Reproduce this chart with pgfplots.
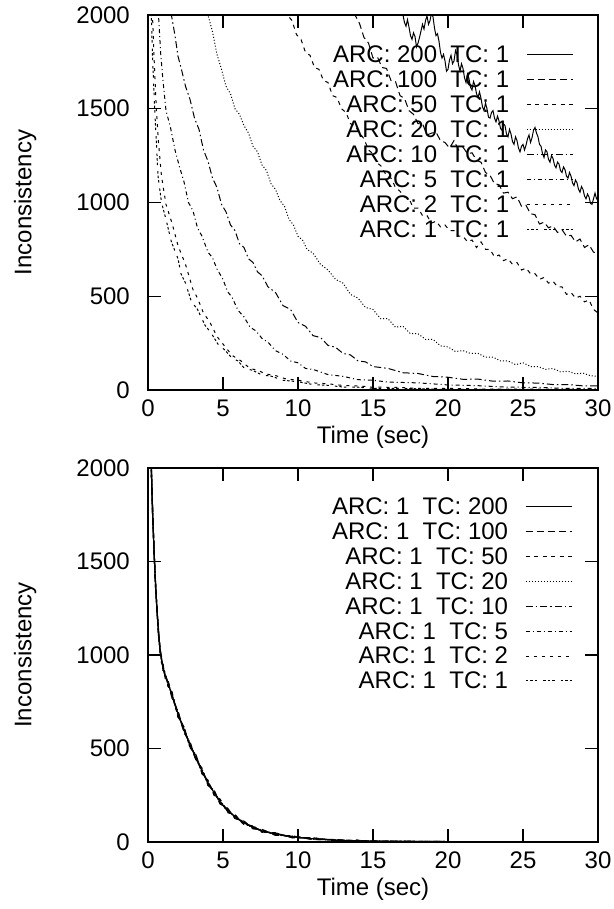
\documentclass[border=0pt]{standalone}
\usepackage{fontspec}
\setmainfont{Liberation Sans}
\usepackage{pgfplots}
\pgfplotsset{compat=1.18}
\usepackage{pgfplotstable}
\newcommand\gap{\hspace{0.556em}}

\pgfplotstableread{
t     s1   s2   s3   s4   s5   s6   s7   s8
0.18 2200 2200 2200 2200 2200 2200 2200 2200
0.22 2000 2015 1985 2008 1992 2004 2018 1982
0.30 1780 1765 1795 1772 1790 1778 1760 1798
0.40 1560 1575 1545 1568 1552 1572 1548 1562
0.50 1380 1365 1395 1372 1390 1368 1398 1382
0.60 1240 1255 1225 1248 1232 1252 1228 1244
0.70 1120 1105 1135 1112 1130 1108 1138 1122
0.80 1030 1045 1015 1038 1022 1042 1018 1034
0.90 975 960 990 968 985 962 992 978
1.00 935 950 920 942 925 948 918 938
1.15 890 875 905 882 898 878 908 892
1.33 850 865 835 858 842 862 834 852
1.60 785 770 800 778 795 772 802 788
2.00 685 700 670 692 676 698 668 688
2.40 600 585 615 592 610 588 618 602
2.80 520 535 505 528 512 532 504 522
3.20 450 435 465 442 460 438 466 452
3.60 380 395 366 388 372 392 365 382
4.00 315 302 328 308 322 305 330 318
4.40 265 278 252 272 258 276 251 266
4.80 215 204 228 210 222 206 229 218
5.30 170 181 159 176 164 179 158 171
5.80 135 126 145 130 140 127 146 137
6.40 102 111 93 107 97 110 92 103
7.00 78 71 86 74 83 72 87 79
7.60 60 67 53 64 56 66 52 61
8.50 42 36 49 39 46 37 49 43
9.60 28 33 23 30 25 32 22 29
11.0 17 13 22 15 20 14 22 18
12.5 10 13 7 11 8 12 7 10
14.0 6 4 9 5 8 4 9 6
15.0 4 6 3 5 3 6 2 4
17.0 3 2 4 2 4 2 4 3
20.0 2 1 2 1 2 1 2 2
25.0 1 1 1 1 1 1 1 1
30.0 1 0 1 0 1 0 1 0
}\bottomdata

\pgfplotsset{
  lA/.style={black, solid, line width=1pt},
  lB/.style={black, dash pattern=on 7pt off 4pt, line width=1pt},
  lC/.style={black, dash pattern=on 4pt off 4.5pt, line width=1pt},
  lD/.style={black, dash pattern=on 1pt off 2pt, line width=1pt},
  lE/.style={black, dash pattern=on 7pt off 3pt on 1.5pt off 3pt, line width=1pt},
  lF/.style={black, dash pattern=on 4pt off 3pt on 1pt off 3pt, line width=1pt},
  lG/.style={black, dash pattern=on 3pt off 5pt, line width=1pt},
  lH/.style={black, dash pattern=on 2.5pt off 2pt on 2.5pt off 2pt on 2.5pt off 6pt, line width=1pt},
  myax/.style={
    width=450pt, height=375pt, scale only axis,
    xmin=0, xmax=30, ymin=0, ymax=2000,
    xtick={0,5,...,30}, ytick={0,500,...,2000},
    tick align=inside, major tick length=13pt,
    axis line style={line width=1.4pt},
    every tick/.style={black, line width=1.2pt},
    font=\fontsize{24}{28}\selectfont,
    /pgf/number format/assume math mode=true,
    /pgf/number format/1000 sep={},
    xticklabel style={inner sep=0pt, anchor=north, yshift=-10pt},
    yticklabel style={inner sep=0pt, anchor=east, xshift=-18pt},
    xlabel={Time (sec)}, ylabel={Inconsistency},
    every axis x label/.style={at={(axis description cs:0.5,-0.096)}, anchor=north, inner sep=0pt},
    every axis y label/.style={at={(axis description cs:-0.273,0.5)}, rotate=90, anchor=center, inner sep=0pt},
    legend cell align=right, legend plot pos=right,
    legend style={draw=none, fill=none, inner sep=0pt, outer sep=0pt, column sep=17pt, row sep=6.9pt,
      nodes={inner sep=0pt, text height=17pt, text depth=1pt}, anchor=north east,
      font=\fontsize{24}{28}\selectfont},
    legend image code/.code={\draw[#1, line width=0.8pt] (0pt,0pt) -- (46pt,0pt);},
    clip=true,
  }
}

\begin{document}
\begin{tikzpicture}[x=1pt,y=1pt]
\useasboundingbox (0,0) rectangle (613,909);
\begin{axis}[myax, at={(148pt,519pt)}, anchor=south west,
  legend style={at={(axis description cs:0.9444,0.918)}}]
\addplot[lA] table {
16.6 2070
16.7 2030
16.8 2020
16.9 2045
17.0 2000
17.1 1960
17.2 1940
17.3 1975
17.4 1935
17.5 1890
17.6 1870
17.7 1905
17.8 1885
17.9 1830
18.0 1850
18.1 1880
18.2 1915
18.3 1950
18.4 1925
18.5 1970
18.6 1995
18.7 1950
18.8 1970
18.9 2010
19.0 1990
19.1 1930
19.2 1890
19.3 1900
19.4 1860
19.5 1800
19.6 1770
19.7 1790
19.8 1755
19.9 1700
20.0 1710
20.1 1760
20.2 1785
20.3 1740
20.4 1755
20.5 1810
20.6 1790
20.7 1735
20.8 1700
20.9 1740
21.0 1715
21.1 1665
21.2 1640
21.3 1685
21.4 1660
21.5 1615
21.6 1600
21.7 1645
21.8 1625
21.9 1580
22.0 1560
22.1 1590
22.2 1555
22.3 1510
22.4 1490
22.5 1530
22.6 1500
22.7 1455
22.8 1450
22.9 1480
23.0 1490
23.1 1450
23.2 1430
23.3 1460
23.4 1435
23.5 1395
23.6 1385
23.7 1420
23.8 1410
23.9 1365
24.0 1350
24.1 1390
24.2 1365
24.3 1325
24.4 1310
24.5 1350
24.6 1330
24.7 1290
24.8 1270
24.9 1300
25.0 1310
25.1 1280
25.2 1305
25.3 1340
25.4 1360
25.5 1320
25.6 1345
25.7 1385
25.8 1400
25.9 1370
26.0 1350
26.1 1310
26.2 1300
26.3 1260
26.4 1240
26.5 1280
26.6 1270
26.7 1230
26.8 1215
26.9 1250
27.0 1235
27.1 1200
27.2 1185
27.3 1215
27.4 1205
27.5 1170
27.6 1160
27.7 1190
27.8 1175
27.9 1140
28.0 1130
28.1 1160
28.2 1140
28.3 1105
28.4 1090
28.5 1120
28.6 1105
28.7 1070
28.8 1055
28.9 1085
29.0 1070
29.1 1035
29.2 1020
29.3 1045
29.4 1030
29.5 995
29.6 990
29.7 1020
29.8 1050
29.9 1020
30.0 1030
};
\addlegendentry{ARC: 200\gap TC: 1}
\addplot[lB] table {
13.5 2070
13.8 2000
14.1 1955
14.4 1880
14.7 1850
15.0 1770
15.3 1775
15.6 1720
15.9 1715
16.2 1650
16.5 1645
16.8 1570
17.1 1555
17.4 1490
17.7 1470
18.0 1420
18.3 1420
18.6 1360
18.9 1370
19.2 1375
19.5 1330
19.8 1320
20.1 1290
20.4 1330
20.7 1280
21.0 1295
21.3 1260
21.6 1265
21.9 1225
22.2 1215
22.5 1160
22.8 1145
23.1 1100
23.4 1095
23.7 1050
24.0 1055
24.3 1020
24.6 1030
24.9 980
25.2 985
25.5 940
25.8 935
26.1 885
26.4 895
26.7 865
27.0 875
27.3 840
27.6 855
27.9 820
28.2 825
28.5 790
28.8 805
29.1 760
29.4 775
29.7 735
30.0 730
};
\addlegendentry{ARC: 100\gap TC: 1}
\addplot[lC] table {
9.0 2070
9.3 2000
9.6 1970
9.9 1895
10.2 1870
10.5 1800
10.8 1785
11.1 1720
11.4 1710
11.7 1650
12.0 1640
12.3 1570
12.6 1560
12.9 1500
13.2 1480
13.5 1420
13.8 1410
14.1 1370
14.4 1340
14.7 1280
15.0 1260
15.3 1210
15.6 1190
15.9 1140
16.2 1130
16.5 1080
16.8 1060
17.1 1030
17.4 1020
17.7 970
18.0 970
18.3 930
18.6 930
18.9 890
19.2 900
19.5 870
19.8 880
20.1 850
20.4 850
20.7 820
21.0 820
21.3 790
21.6 800
21.9 760
22.2 790
22.5 750
22.8 750
23.1 710
23.4 720
23.7 690
24.0 700
24.3 670
24.6 680
24.9 640
25.2 650
25.5 620
25.8 620
26.1 590
26.4 600
26.7 570
27.0 580
27.3 550
27.6 550
27.9 510
28.2 520
28.5 490
28.8 500
29.1 470
29.4 480
29.7 430
30.0 410
};
\addlegendentry{ARC: 50\gap TC: 1}
\addplot[lD] table {
3.8 2070
4.0 2000
4.3 1910
4.6 1790
4.9 1710
5.2 1620
5.5 1580
5.8 1500
6.1 1470
6.4 1410
6.7 1370
7.0 1300
7.3 1270
7.6 1200
7.9 1170
8.2 1100
8.5 1070
8.8 1010
9.1 980
9.4 910
9.7 880
10.0 820
10.3 800
10.6 750
11.0 730
11.5 670
12.0 640
12.5 590
13.0 570
13.5 510
14.0 490
14.5 440
15.0 430
15.5 380
16.0 380
16.5 335
17.0 340
17.5 300
18.0 300
18.5 270
19.0 270
19.5 235
20.0 230
20.5 205
21.0 210
21.5 195
22.0 195
22.5 175
23.0 175
23.5 155
24.0 155
24.5 135
25.0 145
25.5 125
26.0 125
26.5 110
27.0 115
27.5 97
28.0 100
28.5 86
29.0 90
29.5 76
30.0 72
};
\addlegendentry{ARC: 20\gap TC: 1}
\addplot[lE] table {
1.4 2090
1.56 2000
1.8 1890
2.0 1780
2.2 1720
2.5 1620
2.8 1550
3.1 1450
3.4 1390
3.7 1280
4.0 1220
4.3 1130
4.6 1080
4.9 990
5.2 950
5.5 880
5.8 850
6.1 780
6.4 760
6.7 700
7.0 680
7.3 630
7.6 610
8.0 550
8.5 520
9.0 450
9.5 430
10.0 360
10.5 340
11.0 290
11.5 280
12.0 238
12.5 228
13.0 195
13.5 187
14.0 155
14.5 150
15.0 125
16.0 115
17.0 92
18.0 88
19.0 72
20.0 68
21.0 57
22.0 58
23.0 47
24.0 48
25.0 38
26.0 37
27.0 29
28.0 29
29.0 22
30.0 22
};
\addlegendentry{ARC: 10\gap TC: 1}
\addplot[lF] table {
0.6 2100
0.7 2000
0.85 1790
1.0 1650
1.2 1490
1.5 1400
1.8 1280
2.1 1190
2.4 1110
2.7 1000
3.0 955
3.3 865
3.6 820
4.0 735
4.3 705
4.6 645
5.0 590
5.3 525
5.6 495
6.0 425
6.4 390
6.8 335
7.2 315
7.6 275
8.0 255
8.5 210
9.0 190
9.5 155
10.0 145
10.5 115
11.0 110
12.0 82
13.0 73
14.0 55
15.0 52
16.0 42
18.0 38
20.0 27
22.0 23
24.0 15
26.0 14
28.0 8
30.0 9
};
\addlegendentry{ARC: 5\gap TC: 1}
\addplot[lG] table {
0.25 2100
0.3 2000
0.4 1780
0.55 1510
0.7 1320
0.9 1140
1.2 990
1.6 890
2.0 770
2.5 670
3.0 535
3.3 490
3.7 410
4.1 365
4.6 285
5.1 235
5.6 185
6.2 155
6.8 115
7.4 103
7.8 86
8.5 77
9.2 59
10.0 52
11.0 38
12.0 33
13.0 24
14.0 22
15.0 15
16.5 14
18.0 9
20.0 9
23.0 4
26.0 5
30.0 2
};
\addlegendentry{ARC: 2\gap TC: 1}
\addplot[lH] table {
0.2 2100
0.22 2000
0.3 1780
0.44 1510
0.67 1140
0.9 1000
1.2 910
1.56 790
2.0 700
2.2 620
2.5 570
2.9 470
3.3 430
3.8 345
4.2 305
4.7 240
5.1 215
5.6 170
6.0 155
6.4 118
7.0 104
7.6 80
8.2 74
9.0 52
10.0 44
11.0 29
12.0 25
13.0 16
14.0 15
15.0 9
17.0 8
20.0 3
25.0 3
30.0 1
};
\addlegendentry{ARC: 1\gap TC: 1}
\end{axis}

\begin{axis}[myax, at={(148pt,67pt)}, anchor=south west, height=374pt,
  legend style={at={(axis description cs:0.942,0.921)}}]
\addplot[lA, line width=1.2pt] table[x=t,y=s1] {\bottomdata};
\addlegendentry{ARC: 1\gap TC: 200}
\addplot[lB, line width=1.2pt] table[x=t,y=s2] {\bottomdata};
\addlegendentry{ARC: 1\gap TC: 100}
\addplot[lC, line width=1.2pt] table[x=t,y=s3] {\bottomdata};
\addlegendentry{ARC: 1\gap TC: 50}
\addplot[lD, line width=1.2pt] table[x=t,y=s4] {\bottomdata};
\addlegendentry{ARC: 1\gap TC: 20}
\addplot[lE, line width=1.2pt] table[x=t,y=s5] {\bottomdata};
\addlegendentry{ARC: 1\gap TC: 10}
\addplot[lF, line width=1.2pt] table[x=t,y=s6] {\bottomdata};
\addlegendentry{ARC: 1\gap TC: 5}
\addplot[lG, line width=1.2pt] table[x=t,y=s7] {\bottomdata};
\addlegendentry{ARC: 1\gap TC: 2}
\addplot[lH, line width=1.2pt] table[x=t,y=s8] {\bottomdata};
\addlegendentry{ARC: 1\gap TC: 1}
\end{axis}
\end{tikzpicture}
\end{document}
